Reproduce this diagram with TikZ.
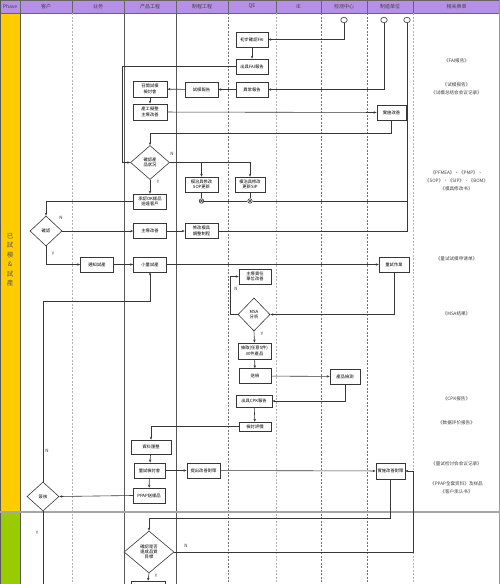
\documentclass[tikz,border=0pt]{standalone}
\usepackage{fontspec}
\setmainfont{Noto Sans CJK TC}
\usetikzlibrary{arrows.meta,shapes.geometric,shadows}
\definecolor{hdr}{RGB}{182,144,230}
\definecolor{phy}{RGB}{255,204,0}
\definecolor{phg}{RGB}{153,204,0}
\definecolor{ln}{RGB}{55,55,55}
\tikzset{
  box/.style={draw=ln, fill=white, line width=0.5pt, minimum width=33pt, minimum height=15pt,
    inner sep=0.3pt, align=center, font=\fontsize{4.3}{5.3}\selectfont,
    drop shadow={shadow xshift=0.8pt, shadow yshift=-0.8pt, fill=gray!60, opacity=1}},
  boldbox/.style={box, line width=0.85pt},
  dia/.style={diamond, draw=ln, fill=white, line width=0.6pt, inner sep=0pt, align=center,
    font=\fontsize{4.3}{5.3}\selectfont},
  term/.style={ellipse, draw=ln, fill=white, line width=0.6pt, minimum width=6.5pt, minimum height=5.5pt, inner sep=0pt},
  junc/.style={circle, draw=ln, fill=white, line width=0.6pt, minimum size=4.5pt, inner sep=0pt,
    path picture={\draw[line width=0.5pt] (path picture bounding box.north west)--(path picture bounding box.south east)
      (path picture bounding box.north east)--(path picture bounding box.south west);}},
  conn/.style={draw=ln, line width=0.6pt},
  arr/.style={conn, -{Stealth[length=3pt,width=2.4pt]}},
  lbl/.style={font=\fontsize{4.5}{5}\selectfont, text=ln, inner sep=0pt},
  form/.style={font=\fontsize{4.6}{8}\selectfont, text=black!75, align=center, inner sep=0pt},
  hd/.style={font=\fontsize{5}{6}\selectfont, text=black!75, inner sep=0pt},
  solidcol/.style={draw=black!65, line width=0.5pt},
  dashcol/.style={draw=black!55, line width=0.5pt, dash pattern=on 2pt off 1.5pt},
  ldashcol/.style={draw=black!30, line width=0.5pt, dash pattern=on 2pt off 1.5pt},
}
\begin{document}
\begin{tikzpicture}[x=1pt,y=-1pt]
\useasboundingbox (0,0) rectangle (500,584);
\clip (0,0) rectangle (500,584);
% background
\fill[white] (0,0) rectangle (500,584);
\fill[hdr] (0,0) rectangle (500,13);
\fill[phy] (0,13) rectangle (20,512);
\fill[phg] (0,512) rectangle (20,584);
% header lines
\foreach \xx in {0,20,72,124,176,228,276,321,367,413,500}
  \draw[draw=black!60, line width=0.5pt] (\xx,0) -- (\xx,13);
\draw[draw=black!60, line width=0.6pt] (0,0.3) -- (500,0.3);
\draw[draw=black!60, line width=0.6pt] (0,13) -- (500,13);
% body column lines
\draw[solidcol] (20,13) -- (20,584);
\draw[ldashcol] (72,13) -- (72,584);
\draw[solidcol] (124,13) -- (124,584);
\draw[solidcol] (176,13) -- (176,584);
\draw[dashcol] (228,13) -- (228,584);
\draw[ldashcol] (276,13) -- (276,584);
\draw[dashcol] (321,13) -- (321,584);
\draw[dashcol] (367,13) -- (367,584);
\draw[ldashcol] (413,13) -- (413,584);
\draw[solidcol] (0.3,0) -- (0.3,584);
\draw[draw=black!40, line width=0.5pt] (499.7,0) -- (499.7,584);
% phase separator
\draw[draw=black!35, line width=1.4pt] (0,512) -- (500,512);
% header texts
\node[hd] at (10,6.5) {Phase};
\node[hd] at (46,6.5) {客户};
\node[hd] at (98,6.5) {业务};
\node[hd] at (150,6.5) {产品工程};
\node[hd] at (202,6.5) {制程工程};
\node[hd] at (252,6.5) {QE};
\node[hd] at (298.5,6.5) {IE};
\node[hd] at (344,6.5) {检测中心};
\node[hd] at (390,6.5) {制造单位};
\node[hd] at (456.5,6.5) {相关表单};
% phase label
\node[font=\fontsize{6.5}{9.5}\selectfont, text=black!65, align=center, inner sep=0pt] (ph) at (10,260) {已\\試\\模\\\&\\試\\產};

% terminals
\node[term] (c1) at (344,20) {};
\node[term] (c2) at (384,20) {};
\node[term] (c3) at (407,20) {};

% boxes
\node[box, minimum width=32pt] (fai1) at (252,39.5) {初步確認FAI};
\node[box, minimum width=32pt] (fai2) at (252,66.5) {出具FAI報告};
\node[box, minimum width=32pt] (abn) at (252,89.5) {異常報告};
\node[box] (trep) at (201.5,89.5) {試模報告};
\node[boldbox, minimum width=34pt, minimum height=16pt] (meet) at (150,89) {召開試模\\檢討會};
\node[boldbox, minimum width=34pt, minimum height=16pt] (lead) at (150,112) {產工擬整\\主導改善};
\node[boldbox, minimum width=29pt] (imp1) at (391.5,112.5) {實施改善};
\node[dia, minimum width=39pt, minimum height=34pt] (d1) at (150,162.5) {確認產\\品狀況};
\node[box, minimum width=33pt] (sop1) at (201.5,184.5) {模治具修改\\SOP更新};
\node[box, minimum width=30pt] (sop2) at (250,184.5) {模治具修改\\更新SIP};
\node[junc] (j1) at (201.5,201) {};
\node[junc] (j2) at (250,201) {};
\node[box] (ok) at (150,201.5) {承認OK樣品\\送達客戶};
\node[dia, minimum width=32pt, minimum height=30pt] (d2) at (46,231) {確認};
\node[box] (imp2) at (150,231) {主導改善};
\node[box] (mod) at (201.5,231) {修改模具\\調整制程};
\node[box] (notify) at (97,264.5) {通知試產};
\node[box] (small) at (150,264.5) {小量試產};
\node[box, minimum width=30pt] (trial) at (394,264.5) {量試作業};
\node[box, minimum width=32pt] (resp) at (255,276.5) {主導責任\\單位改善};
\node[dia, minimum width=32pt, minimum height=33pt] (msa) at (254,314.5) {MSA\\分析};
\node[boldbox, minimum width=33pt, minimum height=16pt] (samp) at (254.5,351) {抽取(任意5件)\\30件產品};
\node[box, minimum width=32pt] (ship) at (255,376) {送檢};
\node[box, minimum width=30pt] (test) at (345,376.5) {產品檢測};
\node[box, minimum width=36pt, minimum height=12pt] (cpk) at (254,401) {出具CPK報告};
\node[box, minimum width=32pt, minimum height=9pt] (eval) at (255,426.5) {檢討評價};
\node[box, minimum width=40pt, minimum height=14pt] (data) at (151,447) {資料匯整};
\node[boldbox, minimum width=31pt] (rev) at (149.5,470.5) {量試檢討會};
\node[boldbox, minimum width=33pt] (plan) at (203.5,470.5) {提出改善對策};
\node[boldbox, minimum width=29pt, minimum height=16pt] (imp3) at (390.5,471) {實施改善對策};
\node[box, minimum width=32pt] (ppap) at (149,495.5) {PPAP送樣品};
\node[dia, minimum width=32pt, minimum height=29pt] (d3) at (43,496.5) {簽核};
\node[dia, minimum width=50pt, minimum height=42pt] (d4) at (149,552) {確認是否\\達成品質\\目標};
\node[box, minimum width=34pt, minimum height=16pt] (last) at (148,589) {};

% helper coordinates
\coordinate (k1) at (150,301);
\coordinate (k2) at (413,552);
\coordinate (bot) at (43,584);
\coordinate (k3) at (122,66.5);

% connectors
\draw[arr] (c1.south) |- (fai1.east);
\draw[arr] (fai1) -- (fai2);
\draw[arr] (c2.south) |- (abn.east);
\draw[arr] (abn) -- (trep);
\draw[arr] (trep) -- (meet);
\draw[arr] (meet) -- (lead);
\draw[arr] (lead) -- (imp1);
\draw[arr] (imp1.south) -- ++(0,13) -| (d1.north);
\draw[arr] (fai2.west) -- (k3) |- (d1.west);
\draw[arr] (d1.east) -| (sop2.north);
\draw[arr] (sop1.north |- d1.east) -- (sop1.north);
\draw[conn] (sop1) -- (j1);
\draw[conn] (sop2) -- (j2);
\draw[conn] (j1) -- (j2);
\draw[conn] (j2) -- (c3.south |- j2);
\draw[conn] (mod.east) -- (c3.south |- mod.east) -- (c3.south);
\draw[arr] (d1.south) -- (ok.north);
\draw[arr] (ok.west) -| (d2.north);
\draw[arr] (d2.east) -- (imp2.west);
\draw[arr] (imp2) -- (mod);
\draw[arr] (d2.south) |- (notify.west);
\draw[arr] (notify) -- (small);
\draw[arr] (small) -- (trial);
\draw[arr] (trial.south) |- (msa.east);
\draw[arr] (msa.west) -- ++(-7,0) |- (resp.west);
\draw[arr] (msa.south) -- (samp.north);
\draw[arr] (samp) -- (ship);
\draw[arr] (ship) -- (test);
\draw[arr] (test.south) |- (cpk.east);
\draw[arr] (cpk) -- (eval);
\draw[arr] (eval.west) -| (data.north);
\draw[arr] (data) -- (rev);
\draw[arr] (rev) -- (plan);
\draw[arr] (plan) -- (imp3);
\draw[arr] (rev) -- (ppap);
\draw[arr] (ppap.west) -- (d3.east);
\draw[arr] (d3.north) |- (k1) -- (small.south);
\draw[conn] (d3.south) -- (bot);
\draw[arr] (imp3.south) -- ++(0,39) -| (d4.north);
\draw[arr] (d4.east) -- (k2) |- (imp3.east);
\draw[arr] (d4.south) -- (last.north);

% Y / N labels
\node[lbl] at (172,153.5) {N};
\node[lbl] at (158,182) {Y};
\node[lbl] at (61,218) {N};
\node[lbl] at (53,253.5) {Y};
\node[lbl] at (236,289) {N};
\node[lbl] at (262,334) {Y};
\node[lbl] at (47,451) {N};
\node[lbl] at (37,533) {Y};
\node[lbl] at (186,546) {N};
\node[lbl] at (156,576) {Y};

% related forms
\node[form] at (456.5,61) {《FAI报告》};
\node[form] at (456.5,89) {《试模报告》\\《试模总结会会议记录》};
\node[form] at (456.5,181) {《PFMEA》、《PMP》、\\《SOP》、《SIP》、《BOM》\\《模具修改书》};
\node[form] at (456.5,259) {《量试试模申请单》};
\node[form] at (456.5,314) {《MSA结果》};
\node[form] at (456.5,399) {《CPK报告》};
\node[form] at (456.5,423) {《数据评价报告》};
\node[form] at (456.5,464) {《量试检讨会会议记录》};
\node[form] at (456.5,488) {《PPAP全套资料》及样品\\《客户承认书》};
\end{tikzpicture}
\end{document}
